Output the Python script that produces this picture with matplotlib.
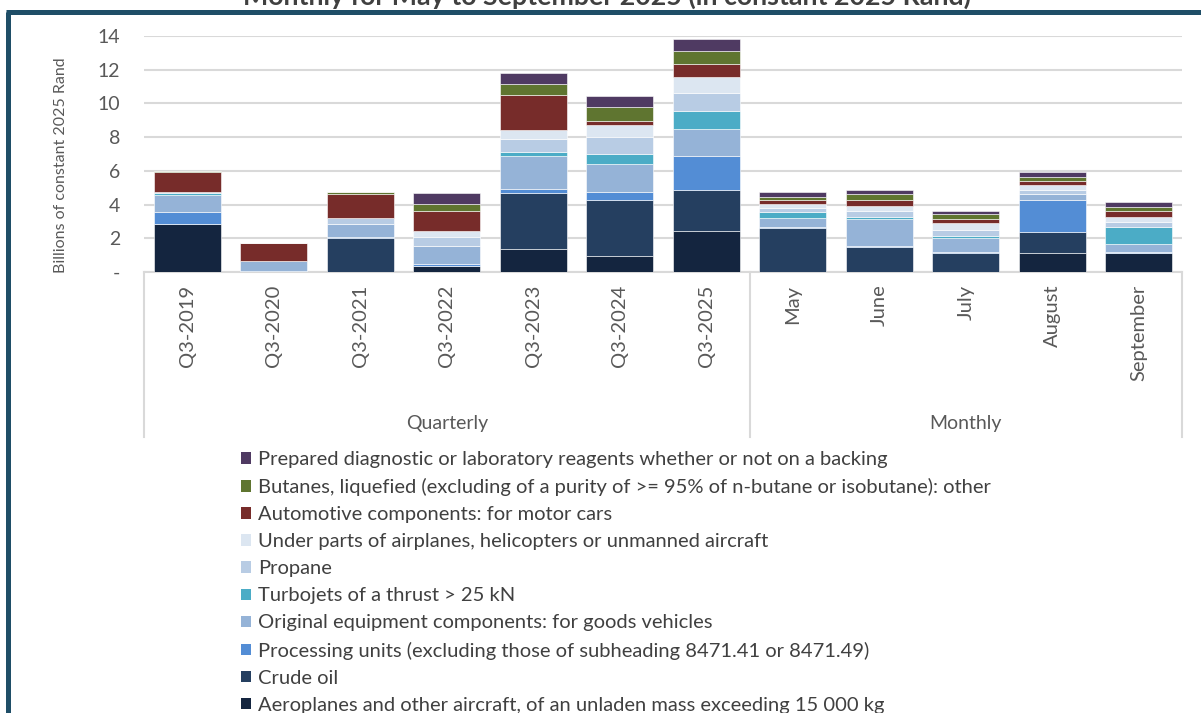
import numpy as np
import matplotlib.pyplot as plt
from matplotlib.lines import Line2D
from matplotlib.patches import Patch

plt.rcParams['font.family'] = ['Lato', 'DejaVu Sans']

# Data (billions of constant 2025 Rand), stack order bottom -> top
categories = ['Q3-2019', 'Q3-2020', 'Q3-2021', 'Q3-2022', 'Q3-2023', 'Q3-2024', 'Q3-2025',
              'May', 'June', 'July', 'August', 'September']
groups = ['Quarterly', 'Monthly']
group_sizes = [7, 5]

aeroplanes = [2.83, 0.00, 0.00, 0.38, 1.36, 0.97, 2.43, 0.00, 0.00, 0.00, 1.13, 1.13]
crude_oil = [0.00, 0.00, 2.04, 0.00, 3.31, 3.30, 2.41, 2.59, 1.46, 1.15, 1.22, 0.00]
processing = [0.71, 0.08, 0.06, 0.09, 0.25, 0.49, 2.04, 0.06, 0.06, 0.05, 1.92, 0.06]
original_eq = [1.03, 0.55, 0.73, 1.07, 1.96, 1.63, 1.60, 0.57, 1.64, 0.84, 0.34, 0.49]
turbojets = [0.13, 0.00, 0.00, 0.00, 0.24, 0.63, 1.07, 0.34, 0.08, 0.08, 0.00, 0.97]
propane = [0.05, 0.00, 0.39, 0.56, 0.79, 0.99, 1.05, 0.22, 0.40, 0.37, 0.25, 0.33]
under_parts = [0.00, 0.00, 0.00, 0.31, 0.49, 0.71, 0.95, 0.24, 0.29, 0.40, 0.30, 0.30]
automotive = [1.16, 1.07, 1.39, 1.23, 2.10, 0.26, 0.81, 0.25, 0.34, 0.25, 0.26, 0.36]
butanes = [0.08, 0.00, 0.15, 0.39, 0.65, 0.79, 0.73, 0.16, 0.34, 0.32, 0.23, 0.23]
reagents = [0.00, 0.00, 0.00, 0.64, 0.67, 0.65, 0.71, 0.33, 0.23, 0.18, 0.26, 0.26]

series = [
    ('Aeroplanes and other aircraft, of an unladen mass exceeding 15 000 kg', aeroplanes, '#14253F'),
    ('Crude oil', crude_oil, '#253F60'),
    ('Processing units (excluding those of subheading 8471.41 or 8471.49)', processing, '#538DD5'),
    ('Original equipment components: for goods vehicles', original_eq, '#95B3D7'),
    ('Turbojets of a thrust > 25 kN', turbojets, '#4BACC6'),
    ('Propane', propane, '#B8CCE4'),
    ('Under parts of airplanes, helicopters or unmanned aircraft', under_parts, '#DCE6F1'),
    ('Automotive components: for motor cars', automotive, '#772C2A'),
    ('Butanes, liquefied (excluding of a purity of >= 95% of n-butane or isobutane): other', butanes, '#5F7530'),
    ('Prepared diagnostic or laboratory reagents whether or not on a backing', reagents, '#4F3A62'),
]

W, H = 1201, 713
fig = plt.figure(figsize=(W / 100, H / 100), dpi=100)
ax = fig.add_axes([144 / W, 1 - 272 / H, (1182 - 144) / W, (272 - 36) / H])

x = np.arange(len(categories))
bottom = np.zeros(len(categories))
handles = []
for name, vals, color in series:
    vals = np.array(vals)
    ax.bar(x, vals, 0.77, bottom=bottom, color=color, edgecolor='white', linewidth=0.4, zorder=3)
    bottom += vals
    handles.append(Patch(facecolor=color, label=name))

grey = '#595959'
ax.set_xlim(-0.5, len(categories) - 0.5)
ax.set_ylim(0, 14)
ax.set_yticks(range(0, 15, 2))
ax.set_yticklabels(['-'] + [str(v) for v in range(2, 15, 2)], color=grey, fontsize=14)
ax.yaxis.grid(True, color='#D9D9D9', linewidth=1.5, zorder=0)
ax.tick_params(axis='y', length=0, pad=17)
ax.set_xticks(x)
ax.set_xticklabels(categories, rotation=90, color=grey, fontsize=14.5, va='top')
ax.tick_params(axis='x', length=0, pad=9)
for s in ['top', 'right', 'left']:
    ax.spines[s].set_visible(False)
ax.spines['bottom'].set_color('#D9D9D9')
ax.spines['bottom'].set_linewidth(1.5)

# group separators and group labels below the axis
px = 14 / 236
edges = np.concatenate([[0], np.cumsum(group_sizes)]) - 0.5
for e in edges:
    ax.plot([e, e], [0, -165 * px], color='#D9D9D9', linewidth=1.5, clip_on=False, zorder=1)
for g, a, b in zip(groups, edges[:-1], edges[1:]):
    ax.text((a + b) / 2, -151 * px, g, ha='center', va='center', color=grey, fontsize=14)

fig.text(61 / W, 1 - 165 / H, 'Billions of constant 2025 Rand', rotation=90,
         ha='center', va='center', color=grey, fontsize=11.5)

fig.text(607 / W, 1 - 5 / H, 'Monthly for May to September 2025 (in constant 2025 Rand)',
         ha='center', va='baseline', fontsize=19.3, fontweight='bold', color='#404040')

leg = fig.legend(handles=handles[::-1], loc='upper left', bbox_to_anchor=(241 / W, 1 - 451 / H),
                 frameon=False, fontsize=14.5, handlelength=0.5, handleheight=0.5,
                 handletextpad=0.35, labelspacing=0.5, borderaxespad=0, borderpad=0)
for t in leg.get_texts():
    t.set_color('#404040')

# frame border
border = '#1F4E67'
fig.add_artist(Line2D([7.5 / W, 7.5 / W], [0, 1 - 11.7 / H], color=border, linewidth=3.6,
                      transform=fig.transFigure, solid_capstyle='butt'))
fig.add_artist(Line2D([5.7 / W, 1], [1 - 11.7 / H, 1 - 11.7 / H], color=border, linewidth=3.6,
                      transform=fig.transFigure, solid_capstyle='butt'))

fig.savefig('out.png', dpi=100)
